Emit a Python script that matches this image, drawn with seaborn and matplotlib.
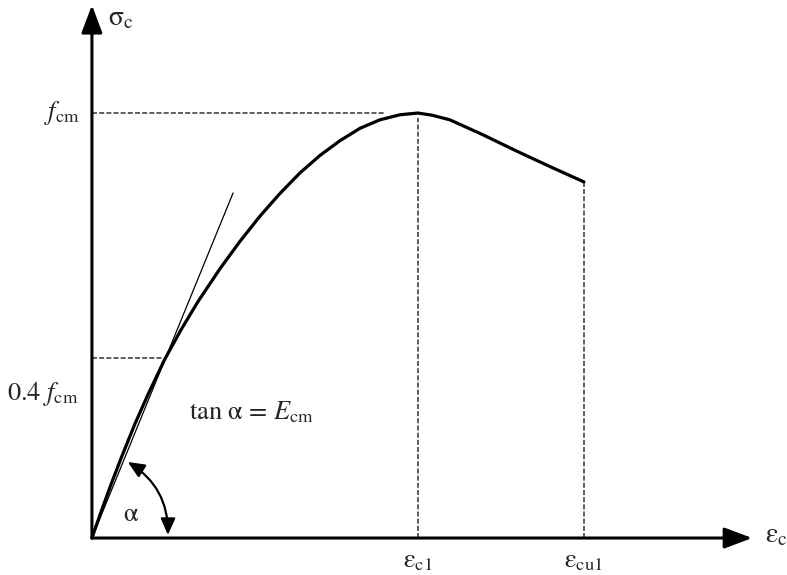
import matplotlib
matplotlib.use('Agg')
import numpy as np
import pandas as pd
import seaborn as sns
from matplotlib import pyplot as plt

# Stress-strain curve (strain / eps_c1, stress / f_cm)
strain = [0.0, 0.029, 0.059, 0.090, 0.131, 0.172, 0.223, 0.274, 0.325,
          0.393, 0.454, 0.515, 0.577, 0.638, 0.699, 0.761, 0.822, 0.883,
          0.945, 1.0, 1.043, 1.098, 1.199, 1.304, 1.405, 1.509]
stress = [0.0, 0.064, 0.127, 0.189, 0.267, 0.338, 0.420, 0.491, 0.556,
          0.634, 0.698, 0.757, 0.811, 0.859, 0.900, 0.935, 0.964, 0.984,
          0.996, 1.0, 0.995, 0.984, 0.949, 0.910, 0.874, 0.838]

# Secant (E_cm) line through the 0.4 f_cm point
secant_strain = [0.0, 0.433]
secant_stress = [0.0, 0.812]

# Characteristic points
eps_c1 = 1.0
eps_cu1 = 1.509
sigma_cu1 = 0.838
f_cm = 1.0
f_04 = 0.423
eps_04 = 0.223
peak_dash_end = 0.899

x_labels = [r'$\mathrm{ε_{c1}}$', r'$\mathrm{ε_{cu1}}$']
y_labels = [r'$f_{\mathrm{cm}}$', r'0.4 $f_{\mathrm{cm}}$']

sns.set_style('white')
plt.rcParams['mathtext.fontset'] = 'stix'
plt.rcParams['font.family'] = ['STIXGeneral', 'DejaVu Serif']

fig = plt.figure(figsize=(7.87, 5.75), dpi=100)
ax = fig.add_axes([0, 0, 1, 1])
ax.set_xlim(-0.282, 2.132)
ax.set_ylim(-0.087, 1.266)
ax.axis('off')

curve = pd.DataFrame({'strain': strain, 'stress': stress})
sns.lineplot(data=curve, x='strain', y='stress', color='black', lw=2.3,
             ax=ax, zorder=4)
sns.lineplot(x=secant_strain, y=secant_stress, color='black', lw=0.9,
             ax=ax, zorder=3)

dash = dict(color='#444444', lw=1.2, ls=(0, (3, 1.3)), zorder=2)
ax.plot([0, peak_dash_end], [f_cm, f_cm], **dash)
ax.plot([0, eps_04], [f_04, f_04], **dash)
ax.plot([eps_c1, eps_c1], [0, 0.988], **dash)
ax.plot([eps_cu1, eps_cu1], [0, sigma_cu1], **dash)

# axes with arrow heads
axis_arrow = dict(arrowstyle='-|>,head_length=0.85,head_width=0.32',
                  lw=2.2, color='black', shrinkA=0, shrinkB=0,
                  mutation_scale=20)
ax.annotate('', xy=(2.025, 0), xytext=(0, 0), arrowprops=axis_arrow)
ax.annotate('', xy=(0, 1.254), xytext=(0, 0), arrowprops=axis_arrow)

# angle alpha
ax.annotate('', xy=(0.233, 0.007), xytext=(0.11, 0.179),
            arrowprops=dict(arrowstyle='<|-|>,head_length=0.5,head_width=0.22',
                            lw=1.6, color='black', shrinkA=0, shrinkB=0,
                            mutation_scale=20,
                            connectionstyle='arc3,rad=-0.28'))

fs = 19
ax.text(0.049, 1.222, r'$\mathrm{σ_c}$', fontsize=fs + 1, ha='left', va='center')
ax.text(2.064, 0.005, r'$\mathrm{ε_c}$', fontsize=fs + 1, ha='left', va='center')
ax.text(-0.037, f_cm, y_labels[0], fontsize=fs, ha='right', va='center')
ax.text(-0.040, 0.34, y_labels[1], fontsize=fs, ha='right', va='center')
ax.text(eps_c1, -0.055, x_labels[0], fontsize=fs, ha='center', va='center')
ax.text(eps_cu1, -0.055, x_labels[1], fontsize=fs, ha='center', va='center')
ax.text(0.298, 0.294, r'tan α = $E_{\mathrm{cm}}$', fontsize=fs,
        ha='left', va='center')
ax.text(0.117, 0.054, 'α', fontsize=fs, ha='center', va='center')

fig.savefig('out.png', dpi=100, facecolor='white')
